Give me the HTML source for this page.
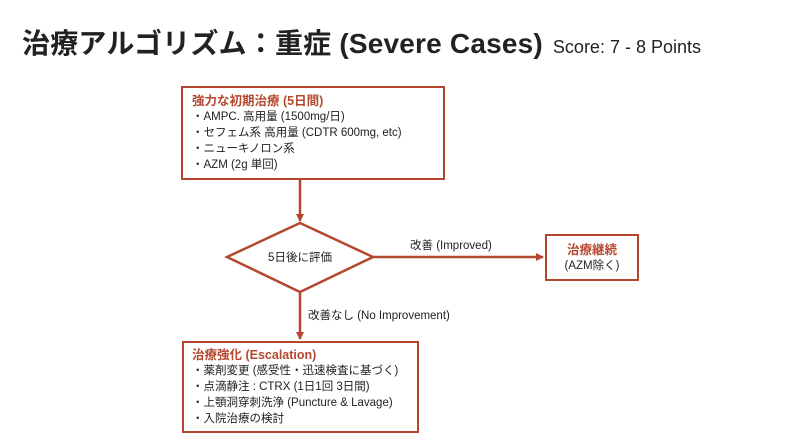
<!DOCTYPE html>
<html><head><meta charset="utf-8"><style>
body{margin:0;width:800px;height:439px;background:#fff;font-family:"Liberation Sans","Noto Sans CJK JP",sans-serif;position:relative;overflow:hidden;color:#222}
.t{position:absolute;left:22px;top:22px;font-size:28px;font-weight:bold;white-space:nowrap;letter-spacing:0.2px}
.t span{font-size:18px;font-weight:normal;letter-spacing:0;margin-left:2px}
.box{position:absolute;border:2px solid #b5472f;box-sizing:border-box;font-size:11.5px;line-height:16px;background:#fff}
.h{color:#b5472f;font-weight:bold;font-size:12.5px}
.lbl{position:absolute;font-size:11.5px;white-space:nowrap}
</style></head><body>
<div class="t">治療アルゴリズム：重症 (Severe Cases) <span>Score: 7 - 8 Points</span></div>
<svg width="800" height="439" style="position:absolute;left:0;top:0">
<defs><marker id="a" markerWidth="8" markerHeight="8" refX="7" refY="4" orient="auto" markerUnits="userSpaceOnUse"><path d="M0,0 L8,4 L0,8z" fill="#b5472f"/></marker></defs>
<line x1="300" y1="179" x2="300" y2="221" stroke="#b5472f" stroke-width="2.5" marker-end="url(#a)"/>
<polygon points="300,223 373,257 300,292 227,257" fill="#fff" stroke="#b5472f" stroke-width="2.5"/>
<line x1="373" y1="257" x2="543" y2="257" stroke="#b5472f" stroke-width="2.5" marker-end="url(#a)"/>
<line x1="300" y1="292" x2="300" y2="339" stroke="#b5472f" stroke-width="2.5" marker-end="url(#a)"/>
<text x="300" y="261" font-size="11.5" text-anchor="middle" font-family="Liberation Sans,Noto Sans CJK JP,sans-serif" fill="#222">5日後に評価</text>
</svg>
<div class="box" style="left:181px;top:86px;width:264px;height:94px;padding:5px 0 0 9px"><div class="h">強力な初期治療 (5日間)</div>・AMPC. 高用量 (1500mg/日)<br>・セフェム系 高用量 (CDTR 600mg, etc)<br>・ニューキノロン系<br>・AZM (2g 単回)</div>
<div class="lbl" style="left:410px;top:237px">改善 (Improved)</div>
<div class="box" style="left:545px;top:234px;width:94px;height:47px;text-align:center;padding-top:6px"><div class="h">治療継続</div>(AZM除く)</div>
<div class="lbl" style="left:308px;top:307px">改善なし (No Improvement)</div>
<div class="box" style="left:182px;top:341px;width:237px;height:92px;padding:4px 0 0 8px"><div class="h">治療強化 (Escalation)</div>・薬剤変更 (感受性・迅速検査に基づく)<br>・点滴静注 : CTRX (1日1回 3日間)<br>・上顎洞穿刺洗浄 (Puncture &amp; Lavage)<br>・入院治療の検討</div>
</body></html>
